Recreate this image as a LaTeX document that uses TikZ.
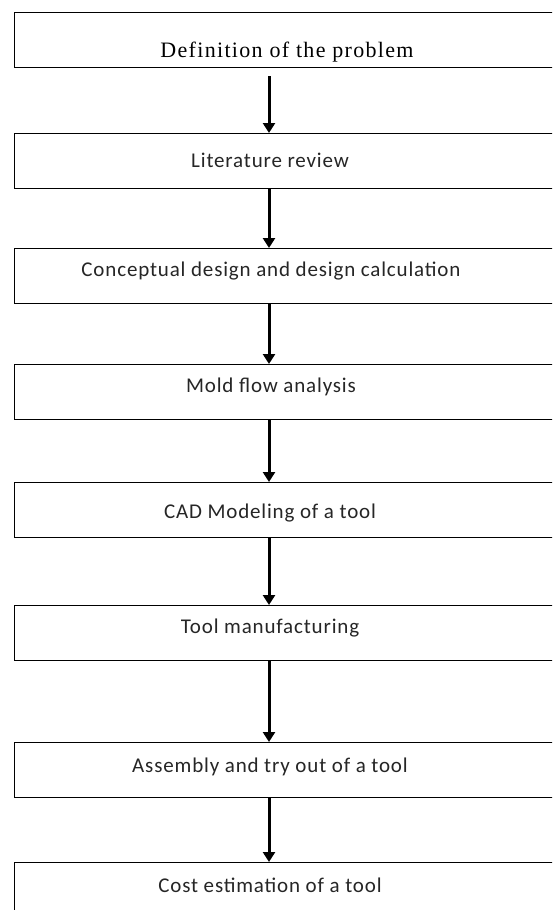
\documentclass[tikz,border=0pt]{standalone}
\usepackage{fontspec}
\setmainfont{Carlito}[LetterSpace=4]
\newfontfamily\serifface{Liberation Serif}[LetterSpace=6]
\usetikzlibrary{arrows.meta}
\tikzset{
  stepbox/.style={draw=black, line width=1.4pt, rectangle, minimum width=548pt, minimum height=55pt, anchor=north west, inner sep=0pt},
  steptext/.style={font=\fontsize{21}{24}\selectfont, inner sep=0pt, text=black!85},
  arr/.style={line width=3pt, -{Triangle[length=10pt,width=12pt]}}
}
\begin{document}
\begin{tikzpicture}[x=1pt,y=-1pt]
\useasboundingbox (0,0) rectangle (552,910);
\clip (0,0) rectangle (552,910);
\fill[white] (0,0) rectangle (552,910);
\coordinate (ax) at (269,0);
\node[stepbox] (b1) at (14,12) {};
\node[stepbox] (b2) at (14,133) {};
\node[stepbox] (b3) at (14,248) {};
\node[stepbox] (b4) at (14,364) {};
\node[stepbox] (b5) at (14,482) {};
\node[stepbox] (b6) at (14,605) {};
\node[stepbox] (b7) at (14,742) {};
\node[stepbox] (b8) at (14,862) {};
\node[steptext, font=\serifface\fontsize{22}{25}\selectfont, text=black] (t1) at (287,52) {Definition of the problem};
\node[steptext] (t2) at (270,160) {Literature review};
\node[steptext] (t3) at (271,271) {Conceptual design and design calculation};
\node[steptext] (t4) at (271,387) {Mold flow analysis};
\node[steptext] (t5) at (270,513) {CAD Modeling of a tool};
\node[steptext] (t6) at (270,628) {Tool manufacturing};
\node[steptext] (t7) at (270,767) {Assembly and try out of a tool};
\node[steptext] (t8) at (270,885) {Cost estimation of a tool};
\draw[arr, shorten <=8pt] (b1.south -| ax) -- (b2.north -| ax);
\draw[arr] (b2.south -| ax) -- (b3.north -| ax);
\draw[arr] (b3.south -| ax) -- (b4.north -| ax);
\draw[arr] (b4.south -| ax) -- (b5.north -| ax);
\draw[arr] (b5.south -| ax) -- (b6.north -| ax);
\draw[arr] (b6.south -| ax) -- (b7.north -| ax);
\draw[arr] (b7.south -| ax) -- (b8.north -| ax);
\end{tikzpicture}
\end{document}
